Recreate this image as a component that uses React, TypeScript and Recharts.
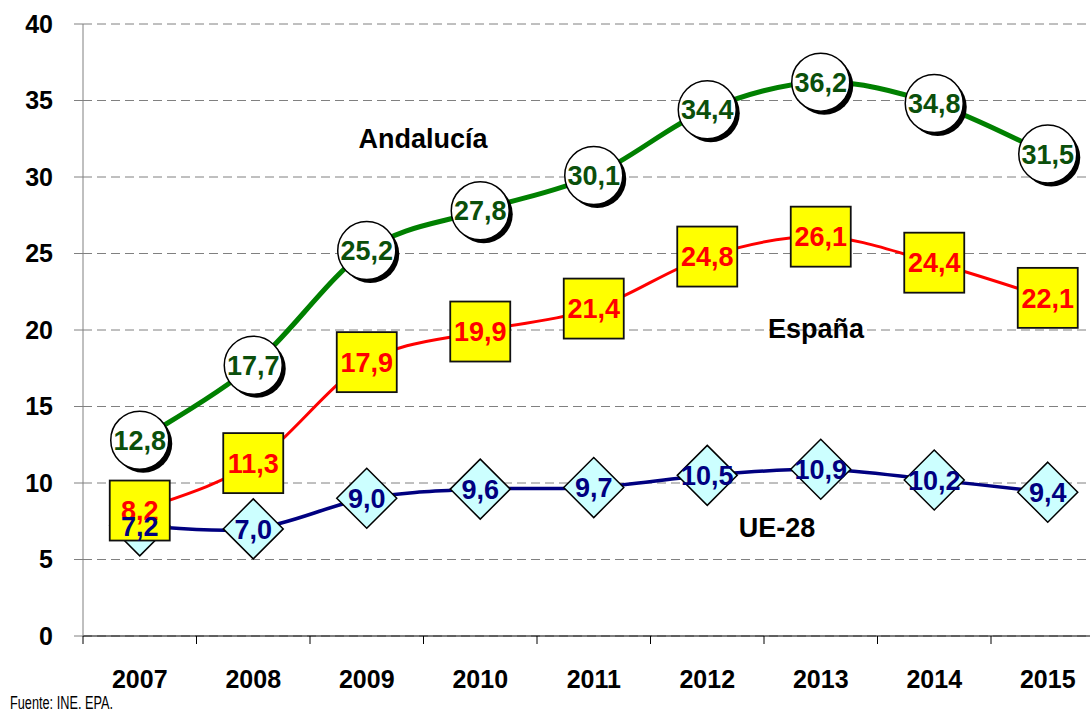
import React from 'react'
import { LineChart, Line, XAxis, YAxis, CartesianGrid, LabelList } from 'recharts'

const years = ['2007', '2008', '2009', '2010', '2011', '2012', '2013', '2014', '2015']
const andalucia = [12.8, 17.7, 25.2, 27.8, 30.1, 34.4, 36.2, 34.8, 31.5]
const espana = [8.2, 11.3, 17.9, 19.9, 21.4, 24.8, 26.1, 24.4, 22.1]
const ue28 = [7.2, 7.0, 9.0, 9.6, 9.7, 10.5, 10.9, 10.2, 9.4]
const yTicks = [0, 5, 10, 15, 20, 25, 30, 35, 40]

const data = years.map((year, i) => ({
  x: i,
  year,
  and: andalucia[i],
  esp: espana[i],
  ue: ue28[i],
}))

// tick marks sit on category boundaries, labels on category centres
const xTicks: number[] = []
for (let i = -0.5; i <= years.length - 0.5; i += 0.5) xTicks.push(i)

const FONT = '"Liberation Sans", Arial, Helvetica, sans-serif'

// Excel-style smoothed line (Catmull-Rom through the points)
const excelSmooth = (context: any) => {
  let pts: [number, number][] = []
  return {
    areaStart() {},
    areaEnd() {},
    lineStart() {
      pts = []
    },
    lineEnd() {
      if (!pts.length) return
      context.moveTo(pts[0][0], pts[0][1])
      for (let i = 0; i < pts.length - 1; i++) {
        const p0 = pts[Math.max(i - 1, 0)]
        const p1 = pts[i]
        const p2 = pts[i + 1]
        const p3 = pts[Math.min(i + 2, pts.length - 1)]
        context.bezierCurveTo(
          p1[0] + (p2[0] - p0[0]) / 6,
          p1[1] + (p2[1] - p0[1]) / 6,
          p2[0] - (p3[0] - p1[0]) / 6,
          p2[1] - (p3[1] - p1[1]) / 6,
          p2[0],
          p2[1]
        )
      }
    },
    point(x: number, y: number) {
      pts.push([+x, +y])
    },
  }
}

const fmt = (v: number) => v.toFixed(1).replace('.', ',')

const XTick = ({ x, y, payload }: any) => {
  const v = payload.value
  if (!Number.isInteger(v)) {
    return <line x1={x} y1={y} x2={x} y2={y + 8} stroke="#000" strokeWidth={1} />
  }
  return (
    <text x={x} y={y + 52} textAnchor="middle" fontFamily={FONT} fontSize={25} fontWeight="bold" fill="#000">
      {years[v]}
    </text>
  )
}

const CircleDot = ({ cx, cy, index }: any) => (
  <g key={`c-${index}`}>
    <circle cx={cx + 3.5} cy={cy + 3.5} r={29} fill="#000" />
    <circle cx={cx} cy={cy} r={29} fill="#fff" stroke="#000" strokeWidth={1.5} />
  </g>
)

const SquareDot = ({ cx, cy, index }: any) => (
  <rect key={`s-${index}`} x={cx - 30} y={cy - 30} width={60} height={60} fill="#ffff00" stroke="#111" strokeWidth={1.8} />
)

const DiamondDot = ({ cx, cy, index }: any) => (
  <polygon
    key={`d-${index}`}
    points={`${cx},${cy - 30} ${cx + 30},${cy} ${cx},${cy + 30} ${cx - 30},${cy}`}
    fill="#ccffff"
    stroke="#000"
    strokeWidth={1.5}
  />
)

const valueLabel = (color: string) => (props: any) => {
  const { x, y, value, index } = props
  return (
    <text
      key={`l-${color}-${index}`}
      x={x}
      y={y + 9.8}
      textAnchor="middle"
      fontFamily={FONT}
      fontSize={27}
      fontWeight="bold"
      fill={color}
    >
      {fmt(value)}
    </text>
  )
}

export default function App() {
  return (
    <div style={{ position: 'absolute', left: 0, top: 0, width: 1090, height: 711, overflow: 'hidden', background: '#fff' }}>
      <LineChart width={1110} height={711} data={data} margin={{ top: 24, right: 5.5, left: 0, bottom: 45 }}>
        <CartesianGrid vertical={false} stroke="#808080" strokeDasharray="9 5" />
        <XAxis
          type="number"
          dataKey="x"
          domain={[-0.5, years.length - 0.5]}
          ticks={xTicks}
          interval={0}
          tickLine={false}
          tickSize={0}
          tickMargin={0}
          height={30}
          stroke="#000"
          axisLine={{ stroke: '#000', strokeWidth: 1.2 }}
          tick={<XTick />}
        />
        <YAxis
          width={83}
          domain={[0, 40]}
          ticks={yTicks}
          interval={0}
          tickSize={9}
          tickMargin={21}
          stroke="#808080"
          tick={{ fontFamily: FONT, fontSize: 25, fontWeight: 'bold', fill: '#000' }}
        />
        <Line dataKey="ue" type={excelSmooth as any} stroke="#000080" strokeWidth={3.5} dot={<DiamondDot />} activeDot={false} isAnimationActive={false} />
        <Line dataKey="esp" type={excelSmooth as any} stroke="#ff0000" strokeWidth={3} dot={<SquareDot />} activeDot={false} isAnimationActive={false} />
        <Line dataKey="and" type={excelSmooth as any} stroke="#008000" strokeWidth={5} dot={<CircleDot />} activeDot={false} isAnimationActive={false} />
        {/* value labels drawn last so they sit above every marker */}
        <Line dataKey="and" stroke="none" dot={false} activeDot={false} isAnimationActive={false}>
          <LabelList dataKey="and" content={valueLabel('#0b4f0b')} />
        </Line>
        <Line dataKey="esp" stroke="none" dot={false} activeDot={false} isAnimationActive={false}>
          <LabelList dataKey="esp" content={valueLabel('#ff0000')} />
        </Line>
        <Line dataKey="ue" stroke="none" dot={false} activeDot={false} isAnimationActive={false}>
          <LabelList dataKey="ue" content={valueLabel('#000080')} />
        </Line>
      </LineChart>
      <svg width={1090} height={711} style={{ position: 'absolute', left: 0, top: 0, pointerEvents: 'none' }}>
        <g fontFamily={FONT} fontWeight="bold" fontSize={27} fill="#000" textAnchor="middle">
          <text x={423} y={148}>Andalucía</text>
          <text x={816} y={338}>España</text>
          <text x={777} y={537}>UE-28</text>
        </g>
        <text x={10} y={709} fontFamily={FONT} fontSize={18} textLength={103} lengthAdjust="spacingAndGlyphs" fill="#000">
          Fuente: INE. EPA.
        </text>
      </svg>
    </div>
  )
}
